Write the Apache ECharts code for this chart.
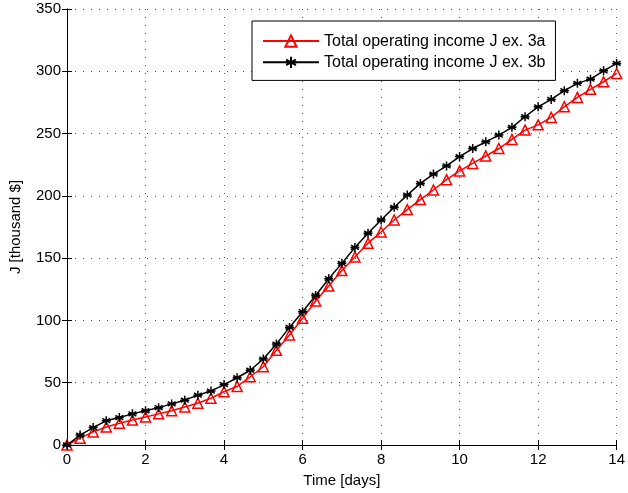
<!DOCTYPE html>
<html>
<head>
<meta charset="utf-8">
<script src="https://cdn.jsdelivr.net/npm/echarts@6/dist/echarts.min.js"></script>
<style>
  html, body { margin: 0; padding: 0; background: #fff; }
  #chart { width: 628px; height: 493px; }
</style>
</head>
<body>
<div id="chart"></div>
<script>
// Sampling times: every 1/3 day from 0 to 14
const times = Array.from({ length: 43 }, (_, k) => k / 3);

// Total operating income J [thousand $], example 3a
const income3a = [
  0, 5.5, 10.5, 14.5, 17.5, 20, 22.5, 25, 27.5, 30.5,
  33.5, 37.5, 42.8, 47, 54.8, 62.8, 76, 88.3, 101.7, 115.6,
  127.6, 140, 151, 162, 171, 180.6, 189, 197, 204.7, 213,
  220, 226, 232, 238, 245.3, 252.8, 257, 263, 271.5, 279,
  285.5, 291.6, 298.3
];

// Total operating income J [thousand $], example 3b
const income3b = [
  0, 8, 14, 19.5, 22, 25, 27.5, 30, 33, 36,
  40, 43.3, 48.5, 54, 60, 69, 81, 94.4, 107, 120,
  133.5, 145.8, 158.6, 170, 180.6, 190.8, 200.6, 210, 217.5, 224,
  231.5, 238, 243.4, 248.8, 255, 263.5, 271.5, 277.4, 284.4, 290.3,
  293.7, 300.4, 306.3
];

const seriesNames = ['Total operating income J ex. 3a', 'Total operating income J ex. 3b'];

const FONT = 'Liberation Sans, Arial, Helvetica, sans-serif';
const asterisk = 'path://M0,-5L0,5M-4.33,-2.5L4.33,2.5M-4.33,2.5L4.33,-2.5M-5,0L5,0';

const chart = echarts.init(document.getElementById('chart'), null, { renderer: 'canvas' });

const gridLine = { show: true, lineStyle: { color: '#555', type: [1, 7], width: 1 } };

chart.setOption({
  animation: false,
  backgroundColor: '#fff',
  grid: { left: 67, right: 7, top: 9, bottom: 48, containLabel: false },
  legend: {
    left: 252, top: 21,
    orient: 'vertical',
    backgroundColor: '#fff',
    borderColor: '#000', borderWidth: 1,
    padding: [12, 10, 10, 10],
    itemGap: 5,
    itemWidth: 56, itemHeight: 14,
    textStyle: { fontFamily: FONT, fontSize: 16, lineHeight: 16, color: '#000' },
    data: seriesNames
  },
  xAxis: [
    {
      type: 'value', min: 0, max: 14, interval: 2,
      name: 'Time [days]', nameLocation: 'middle', nameGap: 28,
      nameTextStyle: { fontFamily: FONT, fontSize: 15, color: '#000' },
      axisLine: { lineStyle: { color: '#000', width: 1 } },
      axisTick: { inside: true, length: 5, lineStyle: { color: '#000' } },
      axisLabel: { fontFamily: FONT, fontSize: 15, color: '#000', margin: 7 },
      splitLine: gridLine
    },
    {
      type: 'value', min: 0, max: 14, interval: 2, position: 'top',
      axisLine: { lineStyle: { color: '#000', width: 1 } },
      axisTick: { inside: true, length: 5, lineStyle: { color: '#000' } },
      axisLabel: { show: false }, splitLine: { show: false }
    }
  ],
  yAxis: [
    {
      type: 'value', min: 0, max: 350, interval: 50,
      name: 'J [thousand $]', nameLocation: 'middle', nameGap: 44, nameRotate: 90,
      nameTextStyle: { fontFamily: FONT, fontSize: 15, color: '#000' },
      axisLine: { show: true, lineStyle: { color: '#000', width: 1 } },
      axisTick: { show: true, inside: true, length: 5, lineStyle: { color: '#000' } },
      axisLabel: { fontFamily: FONT, fontSize: 15, color: '#000', margin: 6 },
      splitLine: gridLine
    },
    {
      type: 'value', min: 0, max: 350, interval: 50, position: 'right',
      axisLine: { show: true, lineStyle: { color: '#000', width: 1 } },
      axisTick: { show: true, inside: true, length: 5, lineStyle: { color: '#000' } },
      axisLabel: { show: false }, splitLine: { show: false }
    }
  ],
  series: [
    {
      name: seriesNames[0], type: 'line',
      data: times.map((t, i) => [t, income3a[i]]),
      symbol: 'triangle', symbolSize: 10, showAllSymbol: true,
      lineStyle: { color: '#ff0000', width: 1.5 },
      itemStyle: { color: 'none', borderColor: '#ff0000', borderWidth: 1.5 },
      emphasis: { disabled: true }, z: 2
    },
    {
      name: seriesNames[1], type: 'line',
      data: times.map((t, i) => [t, income3b[i]]),
      symbol: asterisk, symbolSize: 9, showAllSymbol: true,
      lineStyle: { color: '#000', width: 1.5 },
      itemStyle: { color: 'none', borderColor: '#000', borderWidth: 1.5 },
      emphasis: { disabled: true }, z: 3
    }
  ]
});
</script>
</body>
</html>
